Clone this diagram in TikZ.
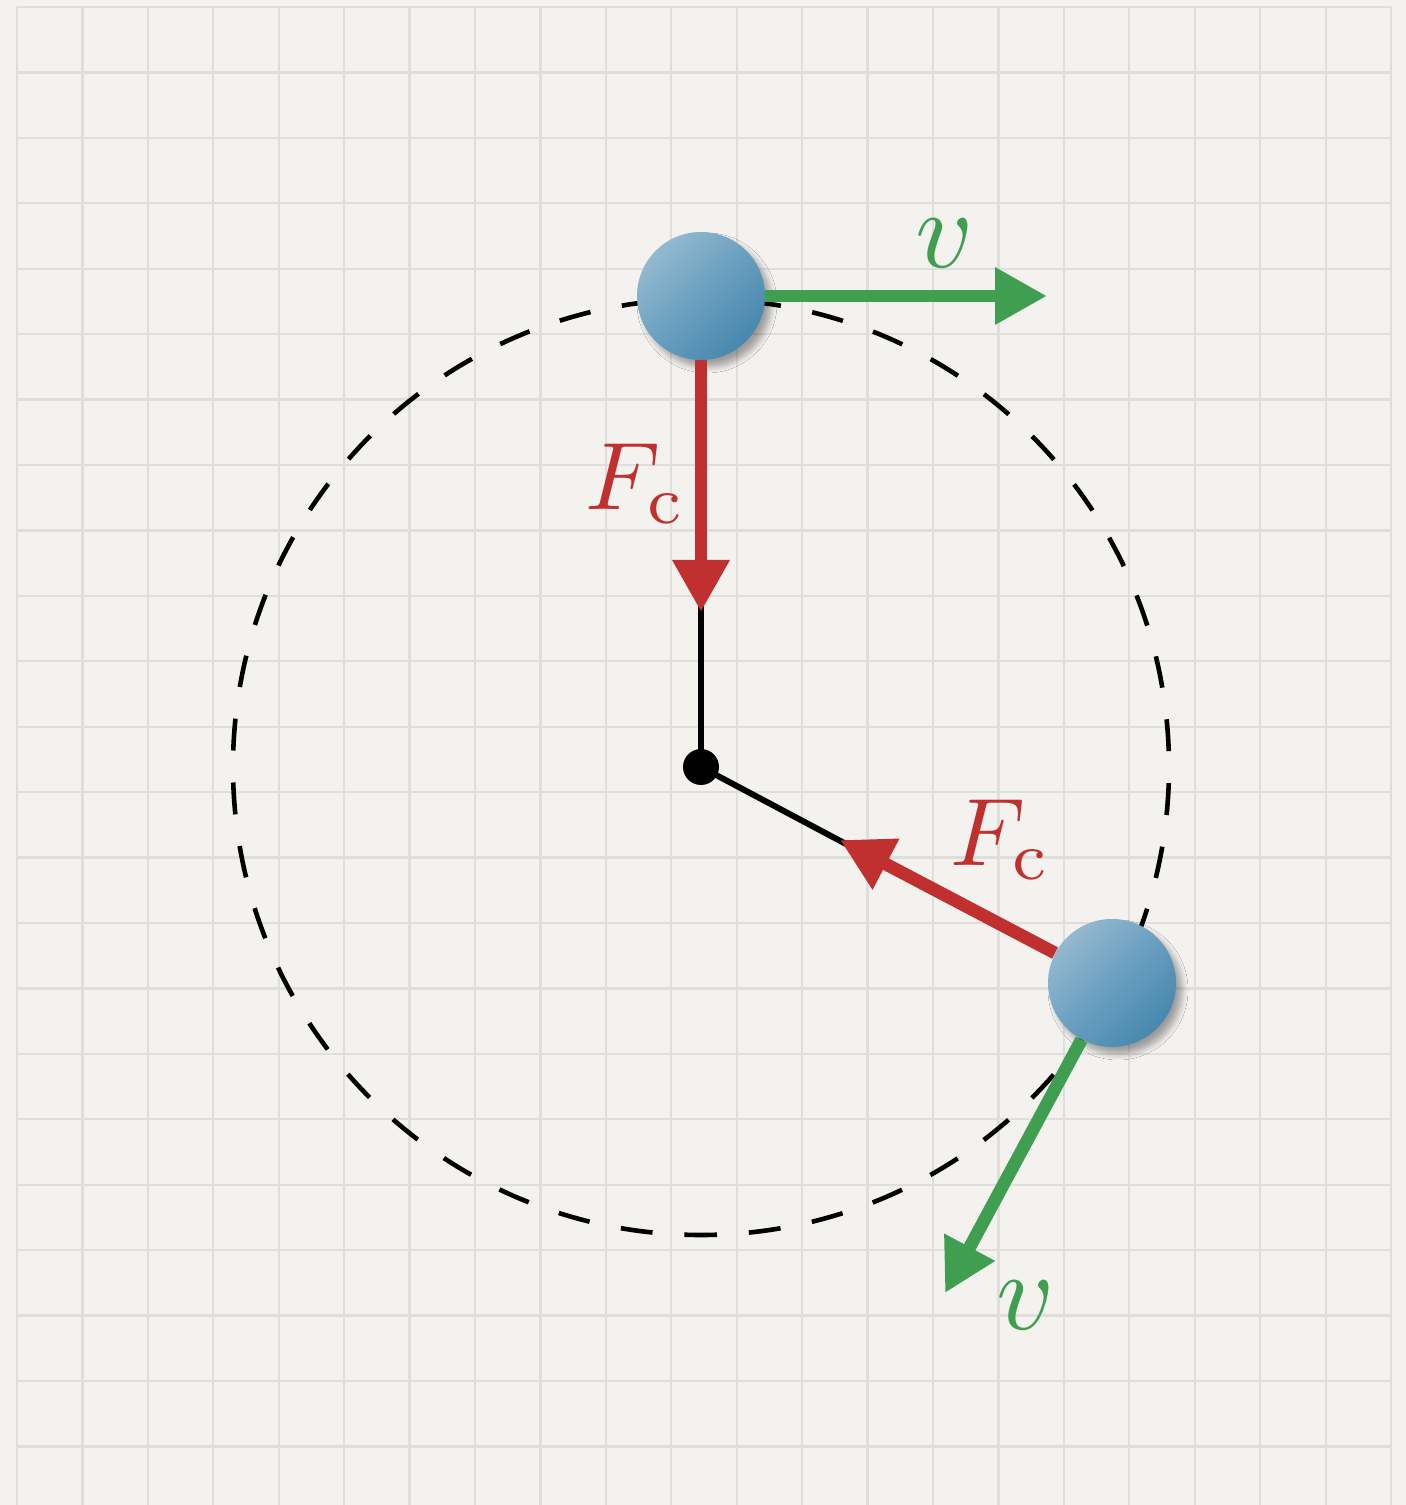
\documentclass[tikz,border=0pt]{standalone}
\usetikzlibrary{arrows.meta,shadows.blur}
\definecolor{bg}{HTML}{F3F2EF}
\definecolor{gridc}{HTML}{DFDEDA}
\definecolor{fred}{HTML}{C0302F}
\definecolor{vgreen}{HTML}{3F9E4F}
\definecolor{ballhi}{HTML}{93B9CE}
\definecolor{ballmid}{HTML}{6A9FC0}
\definecolor{balllo}{HTML}{4788AD}
\begin{document}
\begin{tikzpicture}[x=0.5pt,y=0.5pt,
  gridline/.style={gridc, line width=1.1pt},
  orbit/.style={black, line width=2.3pt, dash pattern=on 15.98pt off 15.98pt, dash phase=8pt},
  rod/.style={black, line width=3pt},
  force/.style={fred, line width=6.4pt, -{Triangle[length=26pt,width=27pt]}},
  vel/.style={vgreen, line width=6.4pt, -{Triangle[length=26pt,width=27pt]}},
  ball/.style={circle, minimum size=64pt, inner sep=0pt, top color=ballhi, bottom color=balllo, middle color=ballmid, shading angle=45,
    blur shadow={shadow xshift=3pt, shadow yshift=-3.5pt, shadow blur radius=3pt, shadow blur steps=8, shadow opacity=35}},
  hubdot/.style={circle, fill=black, minimum size=18pt, inner sep=0pt},
  flabel/.style={text=fred, inner sep=0pt},
  vlabel/.style={text=vgreen, inner sep=0pt}]
\useasboundingbox (0,0) rectangle (1406,1505);
\fill[bg] (0,0) rectangle (1406,1505);
% grid
\foreach \i in {0,...,21} \draw[gridline] ({17+\i*65.43},0) -- ({17+\i*65.43},1498);
\foreach \k in {0,...,22} \draw[gridline] (17,{1498-\k*65.43}) -- (1391,{1498-\k*65.43});
% orbit
\coordinate (O) at (701,738);
\draw[orbit] (701,270) arc[start angle=-90, end angle=270, radius=468];
% nodes
\node[hubdot] (hub) at (O) {};
\coordinate (bend1) at (701,900);
\coordinate (ftip1) at (701,893);
\coordinate (bend2) at (846,661);
\coordinate (ftip2) at (840,665);
\coordinate (vtip1) at (1047,1209);
\coordinate (vtip2) at (945,212);
% rods
\draw[rod] (hub.center) -- (bend1);
\draw[rod] (hub.center) -- (bend2);
% balls
\node[ball] (ball1) at (701,1209) {};
\node[ball] (ball2) at (1112,522) {};
% arrows
\draw[force] (ball1) -- (ftip1);
\draw[force] (ball2) -- (ftip2);
\draw[vel] (ball1) -- (vtip1);
\draw[vel] (ball2) -- (vtip2);
% labels
\node[flabel] (fc1) at (636,1021) {\scalebox{4.8}{$F_{\mathrm{c}}$}};
\node[flabel] (fc2) at (1001,665) {\scalebox{4.8}{$F_{\mathrm{c}}$}};
\node[vlabel] (v1) at (945,1262) {\scalebox{5.6}{$v$}};
\node[vlabel] (v2) at (1026,200) {\scalebox{5.6}{$v$}};
\end{tikzpicture}
\end{document}
